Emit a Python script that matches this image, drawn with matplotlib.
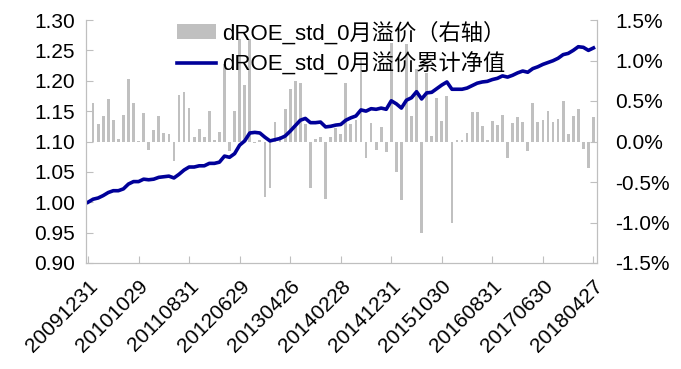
import matplotlib
matplotlib.use('Agg')
import matplotlib.pyplot as plt
from matplotlib.ticker import FuncFormatter, MultipleLocator
from matplotlib.patches import Patch
from matplotlib.lines import Line2D

plt.rcParams['font.family'] = ['Liberation Sans', 'Noto Sans CJK SC']

# tick labels, one every 10 months starting at 20091231
tick_labels = ['20091231', '20101029', '20110831', '20120629', '20130426', '20140228',
               '20141231', '20151030', '20160831', '20170630', '20180427']

# monthly excess return (%), months 1..100
excess = [0.48, 0.21, 0.32, 0.52, 0.26, 0.03, 0.33, 0.77, 0.48, 0.01,
          0.35, -0.11, 0.14, 0.31, 0.11, 0.09, -0.24, 0.57, 0.61, 0.41,
          0.05, 0.15, 0.05, 0.38, 0.02, 0.12, 0.96, -0.12, 0.38, 1.26,
          0.70, 1.26, -0.02, 0.02, -0.69, -0.58, 0.24, 0.07, 0.40, 0.65,
          0.75, 0.72, 0.21, -0.57, 0.03, 0.06, -0.71, 0.06, 0.17, 0.09,
          0.72, 0.21, 0.27, 1.03, -0.20, 0.23, -0.10, 0.18, -0.13, 1.22,
          -0.38, -0.72, 1.20, 0.31, 0.89, -1.13, 0.84, 0.07, 0.54, 0.25,
          0.56, -1.00, 0.02, 0.02, 0.10, 0.37, 0.37, 0.19, 0.02, 0.25,
          0.20, 0.33, -0.20, 0.23, 0.30, 0.24, -0.12, 0.47, 0.24, 0.26,
          0.38, 0.24, 0.28, 0.50, 0.09, 0.32, 0.40, -0.09, -0.33, 0.30]

# cumulative net value, months 0..100
nav = [1.000, 1.005, 1.007, 1.011, 1.016, 1.019, 1.019, 1.022, 1.030, 1.034,
       1.034, 1.038, 1.037, 1.038, 1.041, 1.042, 1.043, 1.040, 1.046, 1.053,
       1.058, 1.058, 1.060, 1.060, 1.064, 1.064, 1.066, 1.076, 1.074, 1.080,
       1.094, 1.101, 1.114, 1.115, 1.114, 1.107, 1.101, 1.103, 1.105, 1.109,
       1.117, 1.126, 1.135, 1.138, 1.131, 1.131, 1.132, 1.124, 1.125, 1.127,
       1.128, 1.135, 1.139, 1.142, 1.152, 1.150, 1.154, 1.153, 1.155, 1.153,
       1.167, 1.162, 1.155, 1.168, 1.172, 1.182, 1.170, 1.180, 1.181, 1.187,
       1.193, 1.198, 1.186, 1.186, 1.186, 1.188, 1.192, 1.196, 1.198, 1.199,
       1.202, 1.204, 1.208, 1.206, 1.209, 1.213, 1.216, 1.214, 1.220, 1.223,
       1.227, 1.230, 1.233, 1.237, 1.243, 1.245, 1.250, 1.256, 1.255, 1.250,
       1.254]

bar_color = '#c0c0c0'
line_color = '#000099'
axis_grey = '#bfbfbf'

fig = plt.figure(figsize=(6.81, 3.69), dpi=100)
ax = fig.add_axes([86 / 681, 1 - 263 / 369, (597 - 86) / 681, (263 - 20) / 369])
ax2 = ax.twinx()
ax.set_zorder(ax2.get_zorder() + 1)
ax.patch.set_visible(False)

ax2.bar(range(1, len(excess) + 1), excess, width=0.55, color=bar_color, linewidth=0)
ax.plot(range(len(nav)), nav, color=line_color, lw=2.6)

ax.set_xlim(-0.4, 100.7)
ax.set_ylim(0.90, 1.30)
ax2.set_ylim(-1.5, 1.5)
ax.yaxis.set_major_locator(MultipleLocator(0.05))
ax.yaxis.set_major_formatter(FuncFormatter(lambda v, p: f'{v:.2f}'))
ax2.yaxis.set_major_locator(MultipleLocator(0.5))
ax2.yaxis.set_major_formatter(FuncFormatter(lambda v, p: f'{v:.1f}%'))

ax.set_xticks(range(0, 101, 10))
ax.set_xticklabels(tick_labels, rotation=45, ha='right', rotation_mode='anchor')

for a in (ax, ax2):
    a.spines['top'].set_visible(False)
    for s in ('left', 'right', 'bottom'):
        a.spines[s].set_color(axis_grey)
    a.tick_params(direction='in', length=5, color=axis_grey, labelsize=15,
                  labelcolor='black')
ax.tick_params(axis='x', pad=10, labelsize=15)
ax.tick_params(axis='y', pad=8)
ax2.tick_params(axis='y', pad=13)

handles = [Patch(facecolor=bar_color, edgecolor='none'),
           Line2D([], [], color=line_color, lw=2.6)]
labels = ['dROE_std_0月溢价（右轴）', 'dROE_std_0月溢价累计净值']
fig.legend(handles, labels, loc='upper left', bbox_to_anchor=(177 / 681, 1 - 21 / 369),
           frameon=False, fontsize=16, handlelength=1.75, handletextpad=0.3,
           labelspacing=0.38, borderpad=0, borderaxespad=0)

fig.savefig('out.png', dpi=100)
